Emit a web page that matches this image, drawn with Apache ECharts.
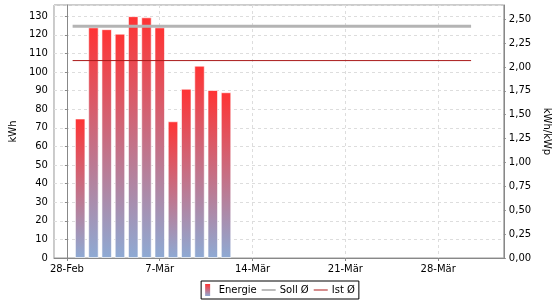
<!DOCTYPE html>
<html><head><meta charset="utf-8">
<script src="https://cdn.jsdelivr.net/npm/echarts@6/dist/echarts.min.js"></script>
<style>html,body{margin:0;padding:0;background:#fff}#c{width:560px;height:300px}</style>
</head><body><div id="c"></div>
<script>
// day offsets from 28-Feb
const barDays = [1,2,3,4,5,6,7,8,9,10,11,12];
const energie = [75,124,123,120.6,130,129.4,124,73.5,91,103.4,90.3,89.1];
const sollValue = 2.426;   // kWh/kWp
const istValue = 2.067;    // kWh/kWp
const lineDays = [0.43, 30.48];
const xTickDays = [0,7,14,21,28];
const xTickLabels = ['28-Feb','7-Mär','14-Mär','21-Mär','28-Mär'];

const font = 'DejaVu Sans';
const chart = echarts.init(document.getElementById('c'), null, {renderer:'canvas'});
const gradient = new echarts.graphic.LinearGradient(0,0,0,1,[
  {offset:0,color:'#ff3333'},{offset:1,color:'#8eaad4'}]);
chart.setOption({
  animation:false,
  textStyle:{fontFamily:font},
  grid:{left:53,right:55,top:5,bottom:42,show:true,borderColor:'#999',borderWidth:1},
  legend:{
    bottom:1,left:'center',
    borderColor:'#000',borderWidth:1,padding:[3,4,3,4],
    itemWidth:14,itemHeight:12,itemGap:5,
    textStyle:{fontFamily:font,fontSize:10,color:'#000',padding:[0,0,0,-1]},
    data:[
      {name:'Energie',icon:'path://M0,0 L5,0 L5,12 L0,12 Z',itemStyle:{borderWidth:0}},
      {name:'Soll Ø',icon:'path://M0,0 L14,0 L14,2 L0,2 Z',itemStyle:{color:'#bbbbbb',borderWidth:0}},
      {name:'Ist Ø',icon:'path://M0,0 L14,0 L14,1 L0,1 Z',itemStyle:{color:'#aa1a1a',borderWidth:0}}
    ]
  },
  xAxis:{
    type:'value',min:-0.975,max:32.95,
    axisLine:{lineStyle:{color:'#888'}},
    axisTick:{show:true,length:3,lineStyle:{color:'#888'},customValues:xTickDays},
    axisLabel:{color:'#000',fontSize:10,fontFamily:font,margin:6,
      customValues:xTickDays,
      formatter:v=>xTickLabels[xTickDays.indexOf(Math.round(v))]},
    splitLine:{show:true,lineStyle:{color:'#ddd',type:[3,3]}}
  },
  yAxis:[{
    type:'value',min:0,max:136,interval:10,
    name:'kWh',nameLocation:'middle',nameGap:32,nameRotate:90,
    nameTextStyle:{color:'#000',fontSize:10,fontFamily:font},
    axisLine:{show:true,lineStyle:{color:'#888'}},
    axisTick:{show:true,length:2,lineStyle:{color:'#888'}},
    axisLabel:{color:'#000',fontSize:10,fontFamily:font,margin:6,showMaxLabel:false},
    splitLine:{show:true,lineStyle:{color:'#ddd',type:[3,3]}}
  },{
    type:'value',min:0,max:2.649,interval:0.25,position:'right',
    name:'kWh/kWp',nameLocation:'middle',nameGap:34,nameRotate:-90,
    nameTextStyle:{color:'#000',fontSize:10,fontFamily:font},
    axisLine:{show:true,lineStyle:{color:'#888'}},
    axisTick:{show:true,length:2,lineStyle:{color:'#888'}},
    axisLabel:{color:'#000',fontSize:10,fontFamily:font,margin:5,showMaxLabel:false,
      formatter:v=>v.toFixed(2).replace('.',',')},
    splitLine:{show:false}
  }],
  series:[{
    name:'Energie',type:'bar',barWidth:10.5,
    itemStyle:{color:gradient,borderColor:'rgba(255,255,255,0.6)',borderWidth:1},
    data:barDays.map((d,i)=>[d,energie[i]])
  },{
    name:'Soll Ø',type:'line',yAxisIndex:1,symbol:'none',
    lineStyle:{color:'#b4b4b4',width:3},itemStyle:{color:'#b4b4b4'},
    data:lineDays.map(d=>[d,sollValue])
  },{
    name:'Ist Ø',type:'line',yAxisIndex:1,symbol:'none',
    lineStyle:{color:'#aa1a1a',width:1},itemStyle:{color:'#aa1a1a'},
    data:lineDays.map(d=>[d,istValue])
  }]
});
</script></body></html>
